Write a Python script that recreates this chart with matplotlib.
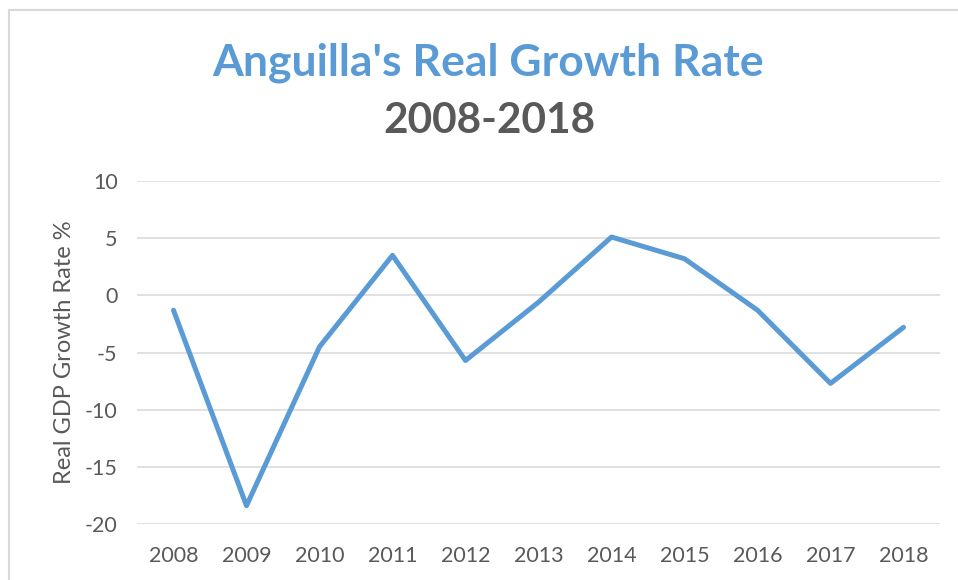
import matplotlib
matplotlib.use("Agg")
import matplotlib.pyplot as plt
from matplotlib.patches import Rectangle

years = ["2008", "2009", "2010", "2011", "2012", "2013", "2014", "2015", "2016", "2017", "2018"]
growth = [-1.3, -18.4, -4.5, 3.5, -5.7, -0.6, 5.1, 3.2, -1.3, -7.7, -2.8]
yticks = [-20, -15, -10, -5, 0, 5, 10]

plt.rcParams['font.family'] = ['Lato', 'DejaVu Sans']
plt.rcParams['axes.unicode_minus'] = False

fig = plt.figure(figsize=(9.58, 5.8), dpi=100)
ax = fig.add_axes([137/958, 1-524/580, (940-137)/958, (524-181)/580])

x = range(len(years))
ax.plot(x, growth, color="#5B9BD5", lw=3.6, solid_capstyle="round", solid_joinstyle="round", zorder=3)

ax.set_xlim(-0.5, len(years)-0.5)
ax.set_ylim(-20, 10)
ax.set_yticks(yticks)
ax.set_xticks(list(x))
ax.set_xticklabels(years)
ax.grid(axis="y", color="#D9D9D9", lw=1.1)
ax.set_axisbelow(True)
for s in ax.spines.values():
    s.set_visible(False)
ax.tick_params(length=0, labelsize=15.5, labelcolor="#595959")
ax.tick_params(axis="x", pad=16)
ax.tick_params(axis="y", pad=14)
ax.set_ylabel("Real GDP Growth Rate %", fontsize=17, color="#595959", labelpad=7)

fig.text(488/958, 1-63/580, "Anguilla's Real Growth Rate", ha="center", va="center",
         fontsize=32, fontweight="bold", color="#5B9BD5")
fig.text(489/958, 1-121/580, "2008-2018", ha="center", va="center",
         fontsize=30.5, fontweight="bold", color="#595959")

# chart frame (only left and top edges visible)
fig.patches.append(Rectangle((9/958, -0.5), 2, 1.5-10/580, transform=fig.transFigure,
                             fill=False, ec="#D9D9D9", lw=1.5))

fig.savefig("out.png", dpi=100)
